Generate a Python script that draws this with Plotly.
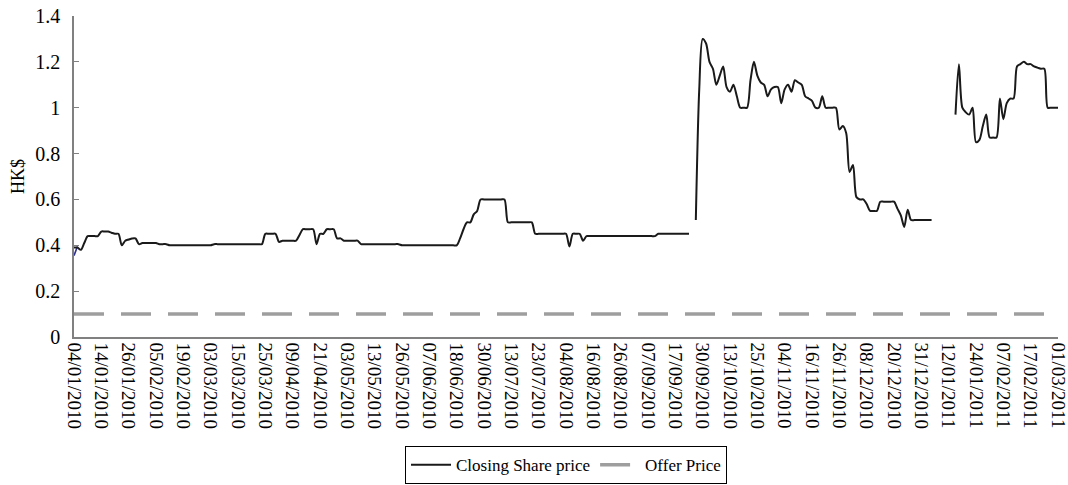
import pandas as pd
import plotly.graph_objects as go

# ---- data -----------------------------------------------------------------
START_DATE = "2010-01-04"
END_DATE = "2011-03-01"
HK_HOLIDAYS = ["2010-01-01", "2010-02-15", "2010-02-16", "2010-04-02", "2010-04-05",
               "2010-04-06", "2010-05-21", "2010-06-16", "2010-07-01", "2010-09-23",
               "2010-10-01", "2010-12-27", "2011-02-03", "2011-02-04"]

TICK_LABELS = ["04/01/2010", "14/01/2010", "26/01/2010", "05/02/2010", "19/02/2010",
               "03/03/2010", "15/03/2010", "25/03/2010", "09/04/2010", "21/04/2010",
               "03/05/2010", "13/05/2010", "26/05/2010", "07/06/2010", "18/06/2010",
               "30/06/2010", "13/07/2010", "23/07/2010", "04/08/2010", "16/08/2010",
               "26/08/2010", "07/09/2010", "17/09/2010", "30/09/2010", "13/10/2010",
               "25/10/2010", "04/11/2010", "16/11/2010", "26/11/2010", "08/12/2010",
               "20/12/2010", "31/12/2010", "12/01/2011", "24/01/2011", "07/02/2011",
               "17/02/2011", "01/03/2011"]

N = None
# closing share price, one row per 8 trading days
closing_price = [
    0.39, 0.39, 0.38, 0.41, 0.44, 0.44, 0.44, 0.44,          # 04/01/2010
    0.46, 0.46, 0.46, 0.455, 0.45, 0.45, 0.40, 0.42,         # 14/01/2010
    0.425, 0.43, 0.43, 0.405, 0.41, 0.41, 0.41, 0.41,        # 26/01/2010
    0.41, 0.405, 0.405, 0.405, 0.40, 0.40, 0.40, 0.40,       # 05/02/2010
    0.40, 0.40, 0.40, 0.40, 0.40, 0.40, 0.40, 0.40,          # 19/02/2010
    0.40, 0.405, 0.405, 0.405, 0.405, 0.405, 0.405, 0.405,   # 03/03/2010
    0.405, 0.405, 0.405, 0.405, 0.405, 0.405, 0.405, 0.405,  # 15/03/2010
    0.45, 0.45, 0.45, 0.45, 0.415, 0.42, 0.42, 0.42,         # 25/03/2010
    0.42, 0.42, 0.445, 0.47, 0.47, 0.47, 0.47, 0.405,        # 09/04/2010
    0.45, 0.45, 0.47, 0.47, 0.47, 0.43, 0.43, 0.42,          # 21/04/2010
    0.42, 0.42, 0.42, 0.42, 0.405, 0.405, 0.405, 0.405,      # 03/05/2010
    0.405, 0.405, 0.405, 0.405, 0.405, 0.405, 0.405, 0.405,  # 13/05/2010
    0.40, 0.40, 0.40, 0.40, 0.40, 0.40, 0.40, 0.40,          # 26/05/2010
    0.40, 0.40, 0.40, 0.40, 0.40, 0.40, 0.40, 0.40,          # 07/06/2010
    0.40, 0.43, 0.47, 0.50, 0.50, 0.535, 0.55, 0.60,         # 18/06/2010
    0.60, 0.60, 0.60, 0.60, 0.60, 0.60, 0.60, 0.50,          # 30/06/2010
    0.50, 0.50, 0.50, 0.50, 0.50, 0.50, 0.50, 0.45,          # 13/07/2010
    0.45, 0.45, 0.45, 0.45, 0.45, 0.45, 0.45, 0.45,          # 23/07/2010
    0.45, 0.395, 0.45, 0.45, 0.45, 0.42, 0.44, 0.44,         # 04/08/2010
    0.44, 0.44, 0.44, 0.44, 0.44, 0.44, 0.44, 0.44,          # 16/08/2010
    0.44, 0.44, 0.44, 0.44, 0.44, 0.44, 0.44, 0.44,          # 26/08/2010
    0.44, 0.44, 0.44, 0.45, 0.45, 0.45, 0.45, 0.45,          # 07/09/2010
    0.45, 0.45, 0.45, 0.45, 0.45, N, 0.51, 1.08,             # 17/09/2010
    1.30, 1.28, 1.20, 1.17, 1.10, 1.14, 1.18, 1.09,          # 30/09/2010
    1.07, 1.10, 1.05, 1.00, 1.00, 1.00, 1.12, 1.20,          # 13/10/2010
    1.14, 1.11, 1.10, 1.05, 1.08, 1.09, 1.09, 1.02,          # 25/10/2010
    1.08, 1.10, 1.07, 1.12, 1.11, 1.10, 1.05, 1.04,          # 04/11/2010
    1.03, 1.00, 1.00, 1.05, 1.00, 1.00, 1.00, 1.00,          # 16/11/2010
    0.905, 0.92, 0.89, 0.72, 0.75, 0.61, 0.60, 0.60,         # 26/11/2010
    0.58, 0.55, 0.55, 0.55, 0.59, 0.59, 0.59, 0.59,          # 08/12/2010
    0.59, 0.56, 0.53, 0.48, 0.555, 0.51, 0.51, 0.51,         # 20/12/2010
    0.51, 0.51, 0.51, 0.51, N, N, N, N,                      # 31/12/2010 block
    N, N, 0.97, 1.19, 1.00, 0.98, 0.97, 1.00,                # 12/01/2011 block
    0.85, 0.86, 0.92, 0.97, 0.87, 0.87, 0.87, 1.04,          # 24/01/2011
    0.95, 1.02, 1.04, 1.04, 1.18, 1.19, 1.20, 1.19,          # 07/02/2011
    1.19, 1.18, 1.175, 1.17, 1.17, 1.00, 1.00, 1.00,         # 17/02/2011
    1.00,                                                    # 01/03/2011
]
opening_glitch = [0.355, 0.395]   # short blue stub at the very start
OFFER_PRICE = 0.1

# ---- categories (HK trading days) -----------------------------------------
days = pd.bdate_range(START_DATE, END_DATE)
days = days[~days.isin(pd.to_datetime(HK_HOLIDAYS))]
dates = [d.strftime("%d/%m/%Y") for d in days]

FONT = "Liberation Serif"

fig = go.Figure()
fig.add_trace(go.Scatter(
    x=dates[:len(opening_glitch)], y=opening_glitch, mode="lines",
    line=dict(color="#2e3192", width=1.6, shape="spline"),
    showlegend=False, hoverinfo="skip"))
fig.add_trace(go.Scatter(
    x=dates[:len(closing_price)], y=closing_price, mode="lines",
    name="Closing Share price",
    line=dict(color="#1a1a1a", width=2, shape="spline", smoothing=0.8),
    connectgaps=False))
fig.add_trace(go.Scatter(
    x=[dates[0], dates[-1]], y=[OFFER_PRICE, OFFER_PRICE], mode="lines",
    name="Offer Price",
    line=dict(color="#9e9e9e", width=3.5, dash="30px,17px")))

fig.update_layout(
    width=1068, height=485,
    margin=dict(l=74, r=10, t=16, b=148, autoexpand=False),
    paper_bgcolor="white", plot_bgcolor="white",
    font=dict(family=FONT, size=19, color="black"),
    showlegend=True,
    legend=dict(orientation="h", x=0.5, xanchor="center", y=-0.34, yanchor="top",
                bordercolor="black", borderwidth=1, font=dict(size=17, family=FONT),
                itemwidth=40, tracegroupgap=0),
    xaxis=dict(type="category", categoryorder="array", categoryarray=dates,
               range=[0, len(dates) - 1], automargin=False,
               tickmode="array", tickvals=TICK_LABELS, ticktext=TICK_LABELS,
               tickangle=90, ticks="", showgrid=False, zeroline=False,
               showline=True, linecolor="#808080", linewidth=1.5,
               tickfont=dict(size=19, family=FONT)),
    yaxis=dict(range=[0, 1.4], dtick=0.2, tick0=0, showgrid=False, zeroline=False,
               automargin=False,
               showline=True, linecolor="#808080", linewidth=1.5,
               ticks="inside", ticklen=5, tickcolor="#808080",
               ticklabelstandoff=8,
               tickfont=dict(size=20, family=FONT),
               title=dict(text="HK$", standoff=6, font=dict(size=18, family=FONT))),
)

fig.write_html(
    "out.html",
    config={"displayModeBar": False},
    post_script="document.body.style.margin='0px';document.body.style.overflow='hidden';",
)
